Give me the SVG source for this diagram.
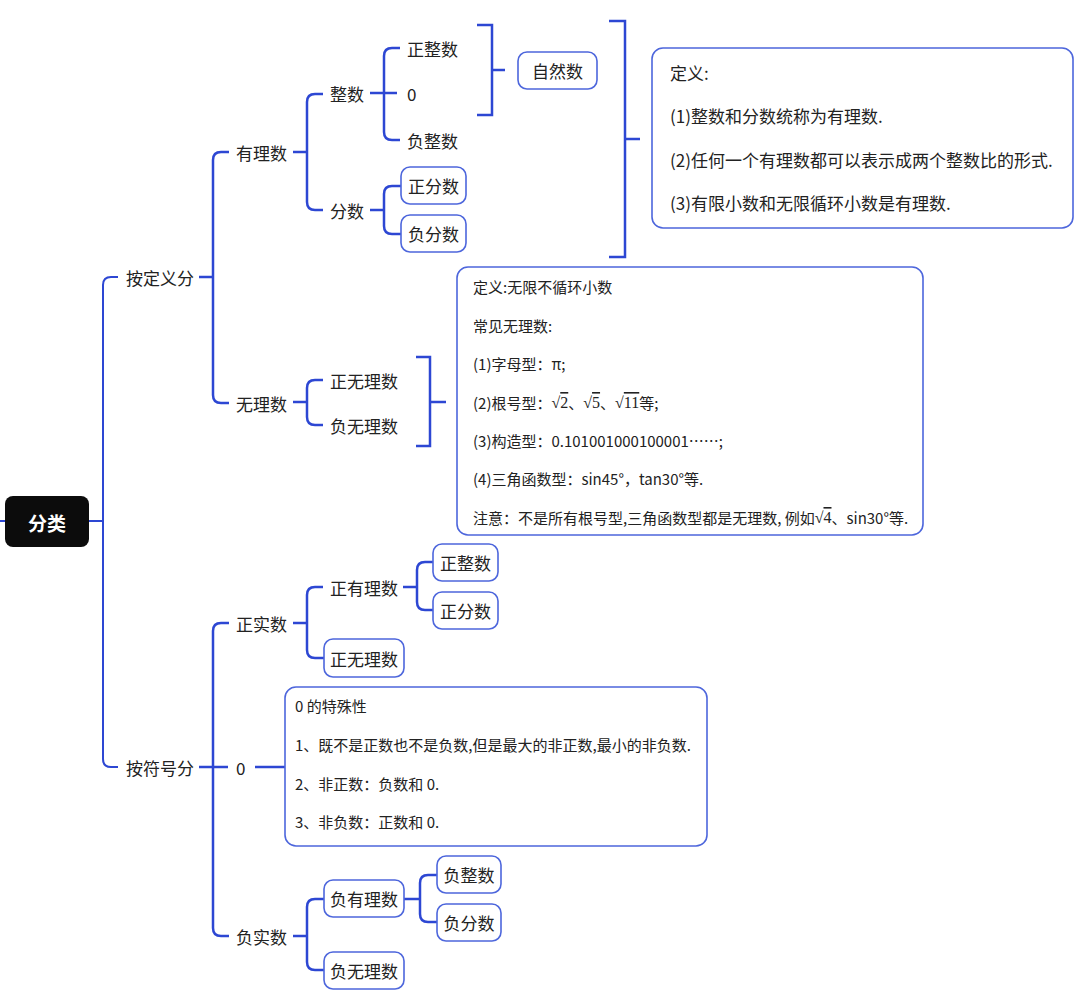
<svg xmlns="http://www.w3.org/2000/svg" width="1080" height="995" viewBox="0 0 1080 995">
<style>
text{font-family:"Noto Sans CJK SC","Microsoft YaHei",sans-serif;fill:#222;dominant-baseline:central}
.n{font-size:17px}
.b{font-size:17px}
.s{font-size:15px}
.c{fill:none;stroke:#2d47d3;stroke-width:2.5;stroke-linecap:butt}
.box{fill:#fff;stroke:#4d66dc;stroke-width:1.6}
.rt{font-size:19px;font-weight:bold;fill:#fff}
.sr{font-family:"Liberation Serif",serif;font-size:16px}
</style>
<rect width="1080" height="995" fill="#fff"/>
<g id="connectors">
<path class="c" style="stroke-width:2" d="M0 521H5M89 521H103M118 277H111Q103 277 103 285V759Q103 767 111 767H118"/>
<path class="c" d="M199 277H213M229 152H221Q213 152 213 160V395Q213 403 221 403H229"/>
<path class="c" d="M293 152H307M323 94H315Q307 94 307 102V202Q307 210 315 210H323"/>
<path class="c" d="M370 93H397M400 48H392Q384 48 384 56V132Q384 140 392 140H400"/>
<path class="c" d="M477 25H492V115H477M492 70H505"/>
<path class="c" d="M370 210H384M401 186H392Q384 186 384 194V226Q384 234 392 234H401"/>
<path class="c" d="M609 21H625V257H609M625 139H640"/>
<path class="c" d="M293 402H307M323 380H315Q307 380 307 388V417Q307 425 315 425H323"/>
<path class="c" d="M416 357H430V446H416M430 402H446"/>
<path class="c" d="M199 767H228M229 623H221Q213 623 213 631V928Q213 936 221 936H229"/>
<path class="c" d="M293 623H307M323 587H315Q307 587 307 595V650Q307 658 315 658H324"/>
<path class="c" d="M403 587H417M433 562H425Q417 562 417 570V602Q417 610 425 610H433"/>
<path class="c" d="M255 767H285"/>
<path class="c" d="M293 936H307M324 899H315Q307 899 307 907V962Q307 970 315 970H324"/>
<path class="c" d="M404 899H420M437 875H428Q420 875 420 883V914Q420 922 428 922H437"/>
</g>
<g id="root"><rect x="5" y="496" width="84" height="51" rx="8" fill="#0c0c0c"/><text class="rt" x="47" y="522" text-anchor="middle">分类</text></g>
<g id="n-dingyi"><text class="n" x="126" y="277">按定义分</text></g>
<g id="n-youli"><text class="n" x="236" y="152">有理数</text></g>
<g id="n-zhengshu"><text class="n" x="330" y="93">整数</text></g>
<g id="n-zzs"><text class="n" x="407" y="48">正整数</text></g>
<g id="n-0a"><text class="n" x="407" y="93">0</text></g>
<g id="n-fzs"><text class="n" x="407" y="140">负整数</text></g>
<g id="n-zrs"><rect class="box" x="518" y="52" width="79" height="37" rx="9"/><text class="n" x="557.5" y="70.5" text-anchor="middle">自然数</text></g>
<g id="n-fenshu"><text class="n" x="330" y="210">分数</text></g>
<g id="n-zfs"><rect class="box" x="401" y="167" width="65" height="37" rx="9"/><text class="n" x="433.5" y="185.5" text-anchor="middle">正分数</text></g>
<g id="n-ffs"><rect class="box" x="401" y="215" width="65" height="37" rx="9"/><text class="n" x="433.5" y="233.5" text-anchor="middle">负分数</text></g>
<g id="n-def1"><rect class="box" x="652" y="48" width="421" height="180" rx="11"/>
<text class="b" x="670" y="72">定义:</text>
<text class="b" x="670" y="115">(1)整数和分数统称为有理数.</text>
<text class="b" x="670" y="159">(2)任何一个有理数都可以表示成两个整数比的形式.</text>
<text class="b" x="670" y="202">(3)有限小数和无限循环小数是有理数.</text></g>
<g id="n-wuli"><text class="n" x="236" y="403">无理数</text></g>
<g id="n-zwl"><text class="n" x="330" y="380">正无理数</text></g>
<g id="n-fwl"><text class="n" x="330" y="425">负无理数</text></g>
<g id="n-def2"><rect class="box" x="457" y="267" width="466" height="268" rx="11"/>
<text class="s" x="473" y="286">定义:无限不循环小数</text>
<text class="s" x="473" y="325">常见无理数:</text>
<text class="s" x="473" y="363">(1)字母型：π;</text>
<text class="s" x="473" y="402">(2)根号型：<tspan class="sr">√</tspan><tspan class="sr" text-decoration="overline">2</tspan>、<tspan class="sr">√</tspan><tspan class="sr" text-decoration="overline">5</tspan>、<tspan class="sr">√</tspan><tspan class="sr" text-decoration="overline">11</tspan>等;</text>
<text class="s" x="473" y="440">(3)构造型：0.101001000100001……;</text>
<text class="s" x="473" y="478">(4)三角函数型：sin45°，tan30°等.</text>
<text class="s" x="473" y="517">注意：不是所有根号型,三角函数型都是无理数, 例如<tspan class="sr">√</tspan><tspan class="sr" text-decoration="overline">4</tspan>、sin30°等.</text></g>
<g id="n-fuhao"><text class="n" x="126" y="767">按符号分</text></g>
<g id="n-zss"><text class="n" x="236" y="623">正实数</text></g>
<g id="n-zyl"><text class="n" x="330" y="587">正有理数</text></g>
<g id="n-zzs2"><rect class="box" x="433" y="544" width="65" height="37" rx="9"/><text class="n" x="465.5" y="562.5" text-anchor="middle">正整数</text></g>
<g id="n-zfs2"><rect class="box" x="433" y="592" width="65" height="37" rx="9"/><text class="n" x="465.5" y="610.5" text-anchor="middle">正分数</text></g>
<g id="n-zwl2"><rect class="box" x="324" y="639" width="80" height="38" rx="9"/><text class="n" x="364" y="658" text-anchor="middle">正无理数</text></g>
<g id="n-0b"><text class="n" x="236" y="767">0</text></g>
<g id="n-def3"><rect class="box" x="285" y="687" width="422" height="159" rx="11"/>
<text class="s" x="295" y="705">0 的特殊性</text>
<text class="s" x="295" y="744">1、既不是正数也不是负数,但是最大的非正数,最小的非负数.</text>
<text class="s" x="295" y="783">2、非正数：负数和 0.</text>
<text class="s" x="295" y="821">3、非负数：正数和 0.</text></g>
<g id="n-fss"><text class="n" x="236" y="936">负实数</text></g>
<g id="n-fyl"><rect class="box" x="324" y="880" width="80" height="37" rx="9"/><text class="n" x="364" y="898.5" text-anchor="middle">负有理数</text></g>
<g id="n-fzs2"><rect class="box" x="437" y="856" width="64" height="37" rx="9"/><text class="n" x="469" y="874.5" text-anchor="middle">负整数</text></g>
<g id="n-ffs2"><rect class="box" x="437" y="904" width="64" height="37" rx="9"/><text class="n" x="469" y="922.5" text-anchor="middle">负分数</text></g>
<g id="n-fwl2"><rect class="box" x="324" y="952" width="80" height="37" rx="9"/><text class="n" x="364" y="970.5" text-anchor="middle">负无理数</text></g>
</svg>
